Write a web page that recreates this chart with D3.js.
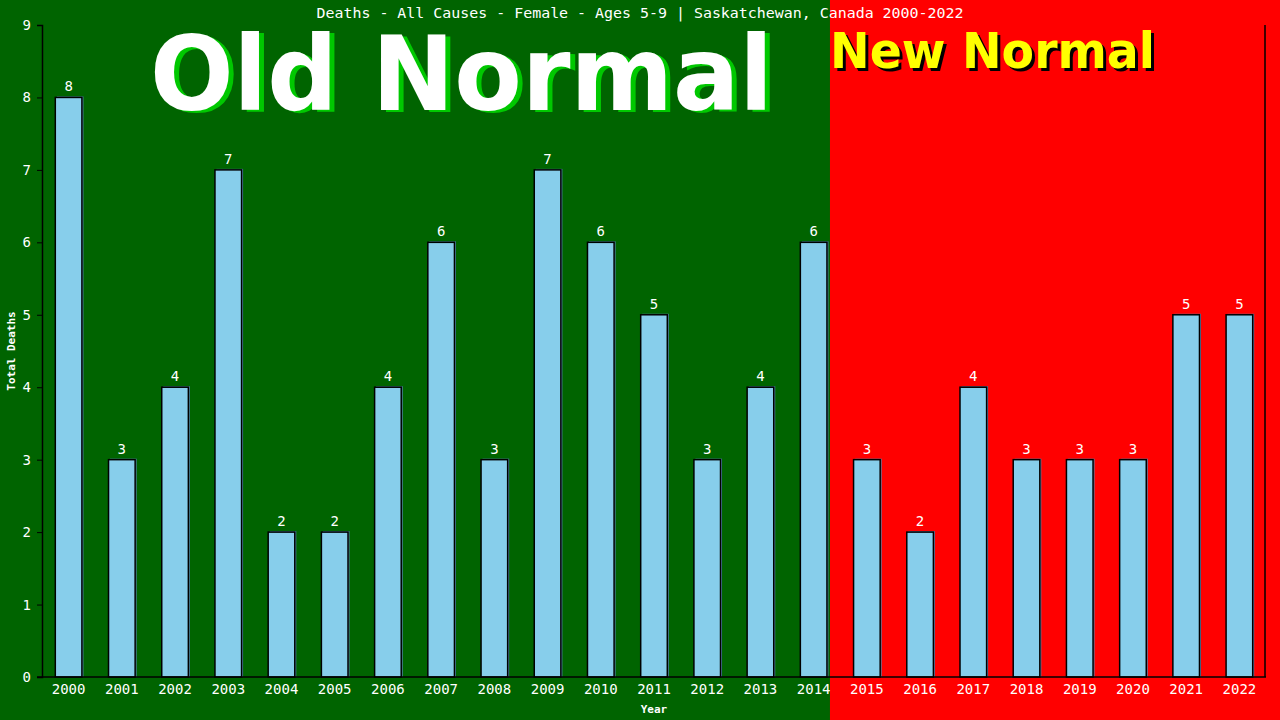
<!DOCTYPE html>
<html>
  <head>
    <meta charset="utf-8">
    <script src="https://d3js.org/d3.v7.min.js"></script>
    <style>
    body { margin: 0; background-color: #006400; }
    svg { display: block; }
    .mono { font-family: 'DejaVu Sans Mono', monospace; fill: #fff; }
    </style>
    <title>Deaths - All Causes - Female - Ages 5-9</title>
  </head>
  <body>
    <div class="chart"></div>
    <script>

      var years = ["2000","2001","2002","2003","2004","2005","2006","2007","2008","2009","2010","2011",
                   "2012","2013","2014","2015","2016","2017","2018","2019","2020","2021","2022"];
      var deaths = [8,3,4,7,2,2,4,6,3,7,6,5,3,4,6,3,2,4,3,3,3,5,5];
      var yTicks = [0,1,2,3,4,5,6,7,8,9];
      var lastOldYear = "2014";

      var width = 1280, height = 720;
      var margin = {top: 25, right: 14, bottom: 43, left: 42};

      var data = years.map(function(y, i) { return {year: y, value: deaths[i]}; });

      var svg = d3.select('.chart').append('svg')
          .attr('width', width)
          .attr('height', height);

      var x = d3.scaleBand()
          .domain(years)
          .range([margin.left, width - margin.right])
          .paddingInner(0.5)
          .paddingOuter(0.25);

      var y = d3.scaleLinear()
          .domain([0, 9])
          .range([height - margin.bottom, margin.top]);

      // background halves
      var split = x(lastOldYear) + x.bandwidth() + 3;
      svg.append('rect').attr('x', 0).attr('y', 0).attr('width', split).attr('height', height).attr('fill', '#006400');
      svg.append('rect').attr('x', split).attr('y', 0).attr('width', width - split).attr('height', height).attr('fill', '#ff0000');

      // big labels
      svg.append('text')
          .attr('x', 155).attr('y', 112)
          .attr('font-family', 'DejaVu Sans').attr('font-weight', 'bold')
          .attr('font-size', 103)
          .attr('textLength', 623).attr('lengthAdjust', 'spacingAndGlyphs')
          .attr('fill', '#00c800')
          .text('Old Normal');
      svg.append('text')
          .attr('x', 150).attr('y', 110)
          .attr('font-family', 'DejaVu Sans').attr('font-weight', 'bold')
          .attr('font-size', 103)
          .attr('textLength', 623).attr('lengthAdjust', 'spacingAndGlyphs')
          .attr('fill', '#fff')
          .text('Old Normal');

      svg.append('text')
          .attr('x', 833).attr('y', 71)
          .attr('font-family', 'DejaVu Sans').attr('font-weight', 'bold')
          .attr('font-size', 49)
          .attr('textLength', 325).attr('lengthAdjust', 'spacingAndGlyphs')
          .attr('fill', '#000')
          .text('New Normal');
      svg.append('text')
          .attr('x', 830).attr('y', 68)
          .attr('font-family', 'DejaVu Sans').attr('font-weight', 'bold')
          .attr('font-size', 49)
          .attr('textLength', 325).attr('lengthAdjust', 'spacingAndGlyphs')
          .attr('fill', '#ffff00')
          .text('New Normal');

      // title
      svg.append('text')
          .attr('class', 'mono')
          .attr('x', 640).attr('y', 18)
          .attr('text-anchor', 'middle')
          .attr('font-size', 14)
          .attr('textLength', 647).attr('lengthAdjust', 'spacingAndGlyphs')
          .text('Deaths - All Causes - Female - Ages 5-9 | Saskatchewan, Canada 2000-2022');

      // bars
      var bars = svg.append('g').selectAll('g')
          .data(data)
          .enter().append('g');

      bars.append('rect')
          .attr('x', function(d) { return x(d.year) + 1.5; })
          .attr('y', function(d) { return y(d.value) - 1; })
          .attr('width', x.bandwidth())
          .attr('height', function(d) { return y(0) - y(d.value) + 1; })
          .attr('fill', '#4f7fa8');

      bars.append('rect')
          .attr('x', function(d) { return x(d.year); })
          .attr('y', function(d) { return y(d.value); })
          .attr('width', x.bandwidth())
          .attr('height', function(d) { return y(0) - y(d.value); })
          .attr('fill', '#87ceeb')
          .attr('stroke', '#000')
          .attr('stroke-width', 1.5);

      bars.append('text')
          .attr('class', 'mono')
          .attr('x', function(d) { return x(d.year) + x.bandwidth() / 2; })
          .attr('y', function(d) { return y(d.value) - 6; })
          .attr('text-anchor', 'middle')
          .attr('font-size', 14)
          .text(function(d) { return d.value; });

      // axes
      var yAxis = svg.append('g')
          .attr('transform', 'translate(' + margin.left + ',0)')
          .call(d3.axisLeft(y).tickValues(yTicks).tickSize(5).tickPadding(6));
      yAxis.select('.domain').attr('stroke', '#000').attr('stroke-width', 1.5);
      yAxis.selectAll('.tick line').attr('stroke', '#000');
      yAxis.selectAll('.tick text')
          .attr('fill', '#fff')
          .attr('font-family', 'DejaVu Sans Mono')
          .attr('font-size', 14);

      var xAxis = svg.append('g')
          .attr('transform', 'translate(0,' + y(0) + ')')
          .call(d3.axisBottom(x).tickSize(0).tickPadding(7));
      xAxis.select('.domain').remove();
      xAxis.selectAll('.tick text')
          .attr('fill', '#fff')
          .attr('font-family', 'DejaVu Sans Mono')
          .attr('font-size', 14);

      svg.append('line')
          .attr('x1', margin.left - 5).attr('x2', width - margin.right)
          .attr('y1', y(0)).attr('y2', y(0))
          .attr('stroke', '#000').attr('stroke-width', 1.5);
      svg.append('line')
          .attr('x1', width - margin.right - 1).attr('x2', width - margin.right - 1)
          .attr('y1', y(9)).attr('y2', y(0))
          .attr('stroke', '#000').attr('stroke-width', 1.5);

      // axis titles
      svg.append('text')
          .attr('class', 'mono')
          .attr('transform', 'translate(15,' + ((y(0) + y(9)) / 2) + ') rotate(-90)')
          .attr('text-anchor', 'middle')
          .attr('font-size', 11).attr('font-weight', 'bold')
          .text('Total Deaths');

      svg.append('text')
          .attr('class', 'mono')
          .attr('x', (margin.left + width - margin.right) / 2)
          .attr('y', 713)
          .attr('text-anchor', 'middle')
          .attr('font-size', 11).attr('font-weight', 'bold')
          .text('Year');

    </script>
  </body>
</html>
